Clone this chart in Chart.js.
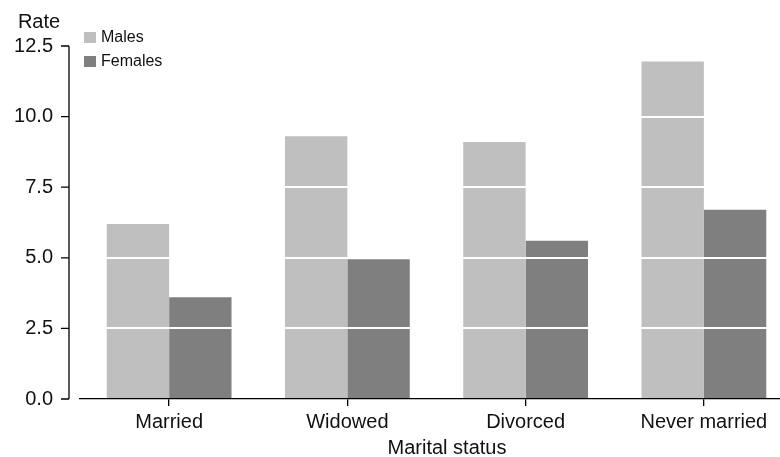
<!DOCTYPE html>
<html>
<head>
<meta charset="utf-8">
<script src="https://cdn.jsdelivr.net/npm/chart.js@4.4.1/dist/chart.umd.min.js"></script>
<style>
  html, body { margin: 0; padding: 0; background: #fff; overflow: hidden; }
  #wrap { position: relative; width: 800px; height: 457px; }
</style>
</head>
<body>
<div id="wrap"><canvas id="rateChart"></canvas></div>
<script>
// Datos
const CATEGORIES = ['Married', 'Widowed', 'Divorced', 'Never married'];
const MALES = [6.2, 9.3, 9.1, 11.95];
const FEMALES = [3.6, 4.95, 5.6, 6.7];
const Y_TICKS = [0, 2.5, 5, 7.5, 10, 12.5];

const COLORS = { males: '#bfbfbf', females: '#7f7f7f' };

Chart.defaults.font.family = "'Liberation Sans', Arial, sans-serif";
Chart.defaults.color = '#111';

// Eje Y separado del área de barras, títulos de ejes y leyenda dentro del gráfico
const axisAndLegend = {
    id: 'axisAndLegend',
    afterDraw(chart) {
        const ctx = chart.ctx;
        const y = chart.scales.y;
        const xAxis = chart.chartArea.left - 11;

        ctx.save();
        ctx.strokeStyle = '#000';
        ctx.lineWidth = 1.3;
        ctx.beginPath();
        ctx.moveTo(xAxis, y.getPixelForValue(Y_TICKS[Y_TICKS.length - 1]));
        ctx.lineTo(xAxis, y.getPixelForValue(0));
        y.ticks.forEach(t => {
            const py = y.getPixelForValue(t.value);
            ctx.moveTo(xAxis - 8, py);
            ctx.lineTo(xAxis, py);
        });
        ctx.stroke();

        ctx.fillStyle = '#111';
        ctx.font = "20px 'Liberation Sans', Arial, sans-serif";
        ctx.textAlign = 'center';
        ctx.textBaseline = 'middle';
        ctx.fillText('Rate', 39, y.top - 24);
        ctx.fillText('Marital status', 447, 448);

        ctx.font = "16px 'Liberation Sans', Arial, sans-serif";
        ctx.textAlign = 'left';
        chart.data.datasets.forEach((ds, i) => {
            const top = 32 + i * 24;
            ctx.fillStyle = ds.backgroundColor;
            ctx.fillRect(84, top, 12, 11);
            ctx.fillStyle = '#111';
            ctx.fillText(ds.label, 101, top + 6);
        });
        ctx.restore();
    }
};

const ctxBar = document.getElementById('rateChart').getContext('2d');
new Chart(ctxBar, {
    type: 'bar',
    data: {
        labels: CATEGORIES,
        datasets: [
            { label: 'Males', data: MALES, backgroundColor: COLORS.males },
            { label: 'Females', data: FEMALES, backgroundColor: COLORS.females }
        ]
    },
    options: {
        responsive: true,
        maintainAspectRatio: false,
        animation: false,
        layout: { padding: { top: 46, right: 7, left: 0, bottom: 0 } },
        datasets: { bar: { categoryPercentage: 0.70, barPercentage: 1.0 } },
        plugins: {
            legend: { display: false },
            tooltip: { enabled: false }
        },
        scales: {
            x: {
                afterFit: s => { s.height = 58; },
                grid: {
                    offset: false,
                    drawOnChartArea: false,
                    drawTicks: true,
                    tickLength: 7,
                    color: '#000',
                    lineWidth: 1.3
                },
                border: { display: true, color: '#000', width: 1.3 },
                ticks: { font: { size: 20 }, padding: 4, color: '#111', maxRotation: 0 }
            },
            y: {
                min: 0,
                max: 12.5,
                afterFit: s => { s.width = 80; },
                afterBuildTicks: s => { s.ticks = Y_TICKS.map(v => ({ value: v })); },
                grid: {
                    z: 1,
                    drawTicks: false,
                    lineWidth: 2,
                    color: c => (c.tick && c.tick.value === 0) ? 'rgba(0,0,0,0)' : '#ffffff'
                },
                border: { display: false },
                ticks: {
                    font: { size: 20 },
                    padding: 27,
                    color: '#111',
                    callback: v => Number(v).toFixed(1)
                }
            }
        }
    },
    plugins: [axisAndLegend]
});
</script>
</body>
</html>
